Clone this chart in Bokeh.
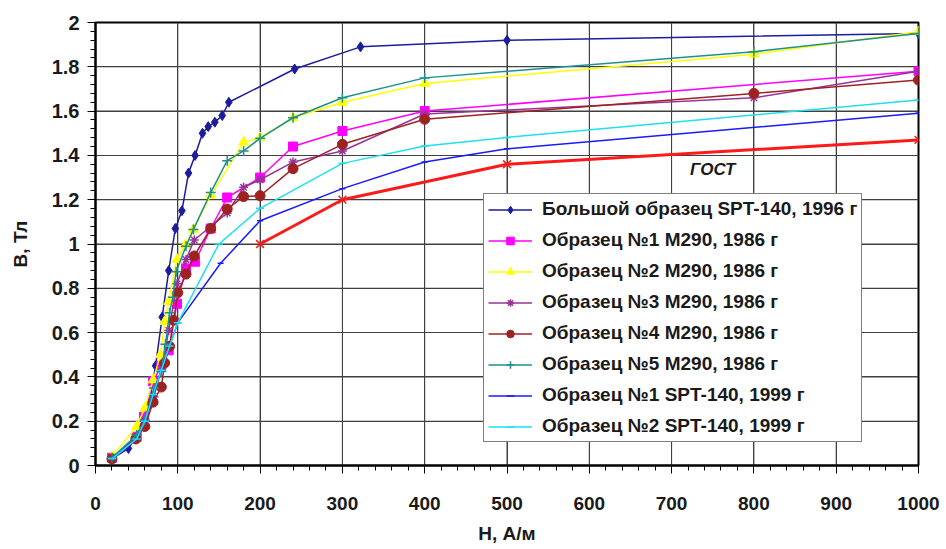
from bokeh.plotting import figure
from bokeh.models import (Range1d, SingleIntervalTicker, CustomJSTickFormatter, Legend,
                          LegendItem, Label, PolyAnnotation)
from bokeh.embed import file_html
from bokeh.resources import INLINE

# ---- data (H, A/m ; B, T) ----
s1_name = "Большой образец SPT-140, 1996 г"
s1_h = [20, 40, 48, 65, 73, 81, 89, 97, 105, 113, 121, 130, 137, 145, 154, 162, 242, 322, 500, 1000]
s1_b = [0.03, 0.077, 0.12, 0.27, 0.45, 0.67, 0.88, 1.07, 1.15, 1.32, 1.40, 1.50, 1.53, 1.55, 1.58, 1.64, 1.79, 1.89, 1.92, 1.95]

s2_name = "Образец №1 M290, 1986 г"
s2_h = [20, 50, 59, 70, 80, 89, 99, 110, 121, 140, 160, 200, 240, 300, 400, 1000]
s2_b = [0.035, 0.13, 0.22, 0.38, 0.45, 0.52, 0.73, 0.89, 0.92, 1.07, 1.21, 1.30, 1.44, 1.51, 1.60, 1.78]

s3_name = "Образец №2 M290, 1986 г"
s3_h = [20, 50, 60, 70, 79, 84, 89, 99, 109, 119, 140, 180, 200, 240, 300, 400, 800, 1000]
s3_b = [0.04, 0.176, 0.26, 0.386, 0.50, 0.65, 0.74, 0.93, 0.995, 1.066, 1.22, 1.46, 1.48, 1.57, 1.64, 1.725, 1.857, 1.958]

s4_name = "Образец №3 M290, 1986 г"
s4_h = [20, 50, 60, 71, 81, 89, 99, 110, 120, 160, 180, 200, 240, 300, 400, 800, 1000]
s4_b = [0.035, 0.13, 0.206, 0.31, 0.45, 0.61, 0.82, 0.93, 1.018, 1.14, 1.256, 1.29, 1.37, 1.42, 1.587, 1.66, 1.78]

s5_name = "Образец №4 M290, 1986 г"
s5_h = [20, 49, 60, 70, 80, 84, 90, 95, 100, 110, 120, 140, 160, 180, 200, 240, 300, 400, 800, 1000]
s5_b = [0.03, 0.12, 0.176, 0.286, 0.354, 0.463, 0.538, 0.656, 0.78, 0.864, 0.946, 1.07, 1.158, 1.214, 1.218, 1.34, 1.45, 1.563, 1.68, 1.74]

s6_name = "Образец №5 M290, 1986 г"
s6_h = [20, 50, 60, 71, 80, 85, 90, 94, 98, 110, 119, 140, 160, 180, 200, 240, 300, 400, 800, 1000]
s6_b = [0.035, 0.138, 0.204, 0.35, 0.424, 0.547, 0.69, 0.76, 0.875, 0.99, 1.066, 1.232, 1.376, 1.42, 1.477, 1.57, 1.66, 1.75, 1.868, 1.95]

s7_name = "Образец №1 SPT-140, 1999 г"
s7_h = [20, 50, 60, 70, 80, 90, 100, 152, 200, 300, 400, 500, 1000]
s7_b = [0.03, 0.12, 0.2, 0.32, 0.43, 0.54, 0.645, 0.913, 1.105, 1.25, 1.37, 1.43, 1.59]

s8_name = "Образец №2 SPT-140, 1999 г"
s8_h = [20, 50, 60, 70, 80, 90, 100, 150, 200, 300, 400, 500, 1000]
s8_b = [0.03, 0.12, 0.2, 0.32, 0.43, 0.54, 0.645, 1.0, 1.161, 1.364, 1.442, 1.481, 1.65]

gost_name = "ГОСТ"
gost_h = [200, 300, 500, 1000]
gost_b = [1.0, 1.2, 1.36, 1.47]

# axis tick values
x_major = [100, 200, 300, 400, 500, 600, 700, 800, 900]
y_major = [0.2, 0.4, 0.6, 0.8, 1.0, 1.2, 1.4, 1.6, 1.8]
x_minor_step = 20
y_minor_step = 0.04

FONT = "Liberation Sans"
W, H = 940, 547
LB, RB, TB, BB = 95, 22, 22, 82
FRAME_BOTTOM = H - BB
X0, X1, Y0, Y1 = 0, 1000, 0, 2
PX_X = (X1 - X0) / (W - LB - RB)   # data units per pixel
PX_Y = (Y1 - Y0) / (H - TB - BB)

p = figure(width=W, height=H, output_backend="svg", toolbar_location=None,
           x_range=Range1d(X0, X1), y_range=Range1d(Y0, Y1),
           min_border_left=LB, min_border_right=RB, min_border_top=TB, min_border_bottom=BB)
p.background_fill_color = "white"
p.border_fill_color = "white"
p.outline_line_color = "black"
p.outline_line_width = 2

xt = SingleIntervalTicker(interval=100, num_minor_ticks=5)
yt = SingleIntervalTicker(interval=0.2, num_minor_ticks=5)
p.xaxis.ticker = xt
p.yaxis.ticker = yt
p.xgrid.ticker = xt
p.ygrid.ticker = yt
p.yaxis.formatter = CustomJSTickFormatter(code="return Number(tick.toFixed(1)).toString();")

p.axis.axis_line_width = 2
p.axis.axis_line_color = "black"
p.axis.major_tick_line_color = "black"
p.axis.minor_tick_line_color = "black"
p.axis.major_tick_out = 8
p.axis.major_tick_in = 0
p.axis.minor_tick_out = 5
p.axis.minor_tick_in = 0
p.axis.major_label_text_font = FONT
p.axis.major_label_text_font_style = "bold"
p.axis.major_label_text_font_size = "19px"
p.axis.major_label_text_color = "#1a1a1a"
p.axis.axis_label_text_font = FONT
p.axis.axis_label_text_font_style = "bold"
p.axis.axis_label_text_font_size = "19px"
p.axis.axis_label_text_color = "#1a1a1a"
p.yaxis.major_label_text_font_size = "20px"

p.xaxis.axis_label = "H, А/м"
p.yaxis.axis_label = "B, Тл"
p.xaxis.major_label_standoff = 23
p.xaxis.axis_label_standoff = 10
p.yaxis.major_label_standoff = 8
p.yaxis.axis_label_standoff = 18

p.grid.grid_line_color = "#404040"
p.grid.grid_line_width = 1
p.grid.grid_line_alpha = 1

# extra grid drawing: vertical lines as multi_line, horizontal lines as thin quads
p.multi_line(xs=[[v, v] for v in x_major], ys=[[Y0, Y1] for v in x_major],
             line_color="#404040", line_width=1)
p.quad(left=[X0] * len(y_major), right=[X1] * len(y_major),
       bottom=[v - 0.5 * PX_Y for v in y_major], top=[v + 0.5 * PX_Y for v in y_major],
       fill_color="#404040", line_alpha=0)

# tick marks as thin polygons outside the frame (mixed units)
for i in range(0, 51):
    xv = i * x_minor_step
    ln = 8 if i % 5 == 0 else 5
    p.add_layout(PolyAnnotation(
        xs=[xv - 0.6 * PX_X, xv + 0.6 * PX_X, xv + 0.6 * PX_X, xv - 0.6 * PX_X],
        ys=[FRAME_BOTTOM, FRAME_BOTTOM, FRAME_BOTTOM + ln, FRAME_BOTTOM + ln],
        xs_units="data", ys_units="canvas",
        fill_color="black", fill_alpha=1, line_alpha=0, level="annotation"))
for i in range(0, 51):
    yv = i * y_minor_step
    ln = 8 if i % 5 == 0 else 5
    p.add_layout(PolyAnnotation(
        xs=[LB - ln, LB, LB, LB - ln],
        ys=[yv - 0.6 * PX_Y, yv - 0.6 * PX_Y, yv + 0.6 * PX_Y, yv + 0.6 * PX_Y],
        xs_units="canvas", ys_units="data",
        fill_color="black", fill_alpha=1, line_alpha=0, level="annotation"))

series = [
    (s1_name, s1_h, s1_b, "#1c1c9c", "diamond", 10, 1.5),
    (s2_name, s2_h, s2_b, "#ff00ff", "square", 9, 1.5),
    (s3_name, s3_h, s3_b, "#ffff00", "triangle", 10, 1.5),
    (s4_name, s4_h, s4_b, "#993399", "asterisk", 9, 1.5),
    (s5_name, s5_h, s5_b, "#9e2222", "circle", 10, 1.5),
    (s6_name, s6_h, s6_b, "#1e9090", "cross", 10, 1.5),
    (s7_name, s7_h, s7_b, "#1a1aff", "dash", 6, 1.5),
    (s8_name, s8_h, s8_b, "#1ee0f0", "dash", 8, 1.5),
]

items = []
for name, h, b, color, marker, size, lw in series:
    ln = p.line(h, b, line_color=color, line_width=lw)
    sc = p.scatter(h, b, marker=marker, size=size, fill_color=color, line_color=color,
                   line_width=1.5 if marker in ("asterisk", "cross", "dash") else 1)
    items.append(LegendItem(label=name, renderers=[ln, sc]))

# GOST curve (not in legend)
p.line(gost_h, gost_b, line_color="#ff1a1a", line_width=3)
p.scatter(gost_h, gost_b, marker="x", size=11, line_color="#ff1a1a", line_width=1.5)
p.add_layout(Label(x=750, y=1.335, text=gost_name, text_font=FONT, text_font_style="bold italic",
                   text_font_size="17px", text_align="center", text_baseline="middle",
                   text_color="#1a1a1a"))

legend = Legend(items=items, location=(388, 23), orientation="vertical")
legend.label_text_font = FONT
legend.label_text_font_style = "bold"
legend.label_text_font_size = "19px"
legend.label_text_color = "#1a1a1a"
legend.label_height = 19
legend.glyph_height = 19
legend.glyph_width = 44
legend.spacing = 9
legend.padding = 4
legend.margin = 0
legend.label_standoff = 10
legend.border_line_color = "black"
legend.border_line_width = 1
legend.background_fill_color = "white"
legend.background_fill_alpha = 1
p.add_layout(legend, "center")

open("out.html", "w").write(file_html(p, INLINE))
